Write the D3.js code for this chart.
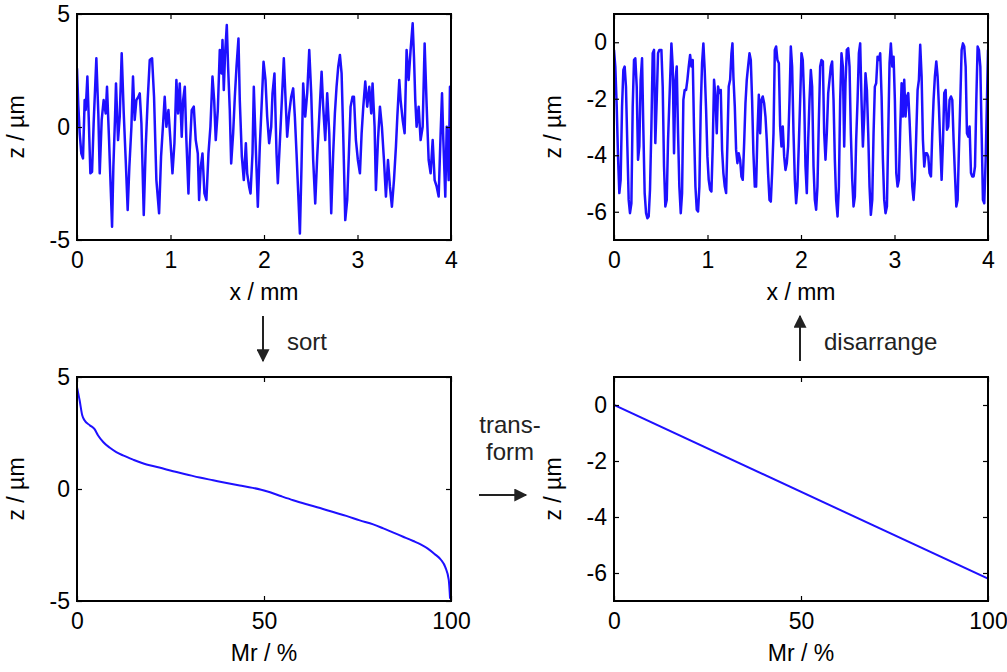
<!DOCTYPE html>
<html>
<head>
<meta charset="utf-8">
<script src="https://cdn.jsdelivr.net/npm/d3@7"></script>
<style>
  body { margin: 0; background: #fff; }
  svg { display: block; }
  text { font-family: "Liberation Sans", Arial, Helvetica, sans-serif; }
</style>
</head>
<body>
<svg id="fig" width="1007" height="672"></svg>
<script>
// Measured roughness profile (x in mm, z in µm)
const roughX = [0.000,0.014,0.029,0.046,0.064,0.082,0.093,0.111,0.125,0.143,0.161,0.178,0.207,0.228,0.243,0.264,0.285,0.307,0.321,0.343,
  0.360,0.375,0.389,0.407,0.417,0.439,0.457,0.478,0.500,0.521,0.542,0.560,0.582,0.599,0.617,0.635,0.657,0.671,0.689,0.714,
  0.735,0.756,0.778,0.803,0.824,0.849,0.878,0.899,0.921,0.938,0.956,0.978,0.999,1.021,1.042,1.063,1.081,1.099,1.120,1.135,
  1.153,1.170,1.192,1.206,1.227,1.249,1.270,1.292,1.306,1.324,1.342,1.363,1.384,1.406,1.427,1.449,1.467,1.484,1.506,1.527,
  1.545,1.556,1.570,1.584,1.602,1.616,1.634,1.649,1.670,1.688,1.706,1.727,1.741,1.763,1.784,1.806,1.820,1.841,1.856,1.877,
  1.891,1.913,1.934,1.955,1.977,1.995,2.016,2.034,2.055,2.077,2.091,2.112,2.134,2.148,2.169,2.191,2.212,2.234,2.248,2.269,
  2.291,2.312,2.330,2.348,2.369,2.384,2.401,2.419,2.441,2.462,2.484,2.505,2.526,2.548,2.569,2.591,2.616,2.633,2.655,2.676,
  2.698,2.719,2.740,2.758,2.776,2.794,2.812,2.830,2.847,2.869,2.890,2.908,2.926,2.947,2.962,2.983,3.004,3.026,3.044,3.062,
  3.083,3.104,3.126,3.147,3.161,3.183,3.197,3.219,3.240,3.261,3.283,3.304,3.326,3.347,3.368,3.390,3.411,3.426,3.447,3.461,
  3.483,3.504,3.525,3.547,3.568,3.590,3.604,3.618,3.632,3.654,3.675,3.697,3.718,3.740,3.761,3.782,3.804,3.825,3.847,3.868,
  3.889,3.904,3.918,3.939,3.954,3.975,3.989,4.000];
const roughZ = [2.60,0.97,-0.28,-1.17,-1.39,1.19,0.75,2.23,0.46,-2.05,-1.98,0.16,3.04,0.60,-2.05,0.31,1.19,0.60,1.78,-0.58,
  -2.64,-4.41,-1.76,0.46,1.93,-0.58,0.46,3.26,0.60,-1.46,-3.67,-1.76,0.01,2.23,0.31,1.19,1.34,1.49,0.16,-3.89,
  -0.87,1.19,2.96,3.04,1.34,-2.35,-3.82,-1.31,0.16,1.34,0.01,0.75,-0.58,-2.05,-0.72,2.08,0.60,1.93,-0.43,1.19,
  1.78,-0.58,-2.94,-1.02,0.75,0.90,-0.58,-1.17,-3.23,-1.76,-1.17,-2.94,-3.23,-1.17,0.01,2.23,1.19,-0.58,0.75,3.41,
  2.37,3.85,1.64,3.26,4.51,2.67,0.75,-1.61,-0.28,1.34,2.67,3.92,1.19,-1.31,-2.35,-0.72,-2.05,-2.64,-2.94,-1.17,
  1.78,-1.02,-3.53,-0.87,1.19,2.89,2.08,0.46,-0.72,0.01,1.49,2.37,-1.17,-2.49,-0.72,1.19,3.04,0.90,-0.43,0.60,
  1.34,1.71,0.46,-1.17,-3.23,-4.71,-1.76,1.93,0.46,1.49,3.41,1.49,-1.46,-3.38,-1.31,0.46,2.45,0.90,-0.58,1.49,
  -0.28,-3.82,-1.17,0.60,1.78,2.67,3.19,2.37,-0.28,-4.12,-3.23,-1.17,0.90,1.34,1.34,-0.58,-1.46,-2.05,-0.28,0.90,
  2.01,0.90,1.78,0.60,1.93,0.01,-2.79,-0.58,0.90,0.01,-1.46,-3.08,-1.46,-2.64,-3.53,-2.35,-0.87,0.46,2.08,1.19,
  0.31,-0.28,3.41,2.08,3.41,4.59,3.11,1.19,0.01,0.90,-0.58,0.01,3.70,0.90,-1.46,-2.05,-0.58,-2.35,-2.64,-3.08,
  -0.28,1.49,-0.58,-3.08,0.01,-2.35,1.78,0.90];

// Rearranged plateau profile (x in mm, z in µm)
const plateauX = [0.000,0.014,0.029,0.043,0.057,0.071,0.086,0.100,0.114,0.128,0.143,0.157,0.171,0.186,0.200,0.214,0.228,0.243,0.257,0.271,
  0.285,0.300,0.314,0.328,0.343,0.357,0.371,0.385,0.400,0.414,0.428,0.442,0.457,0.471,0.485,0.507,0.521,0.535,0.549,0.564,
  0.578,0.599,0.614,0.628,0.642,0.657,0.671,0.685,0.699,0.714,0.728,0.742,0.756,0.771,0.785,0.799,0.814,0.828,0.842,0.856,
  0.871,0.885,0.899,0.913,0.928,0.942,0.956,0.970,0.985,0.999,1.013,1.028,1.042,1.056,1.070,1.085,1.099,1.113,1.127,1.142,
  1.156,1.170,1.185,1.199,1.213,1.227,1.242,1.256,1.267,1.277,1.292,1.306,1.320,1.334,1.349,1.363,1.377,1.392,1.406,1.420,
  1.434,1.449,1.463,1.477,1.491,1.506,1.520,1.534,1.549,1.563,1.577,1.591,1.606,1.620,1.634,1.648,1.663,1.677,1.691,1.706,
  1.720,1.734,1.748,1.763,1.777,1.791,1.805,1.820,1.834,1.848,1.862,1.877,1.891,1.905,1.920,1.934,1.948,1.962,1.977,1.991,
  2.005,2.019,2.034,2.048,2.062,2.077,2.091,2.105,2.119,2.134,2.148,2.162,2.176,2.191,2.205,2.219,2.234,2.248,2.262,2.276,
  2.291,2.305,2.319,2.333,2.348,2.362,2.376,2.391,2.405,2.419,2.433,2.448,2.462,2.476,2.490,2.505,2.519,2.533,2.548,2.562,
  2.576,2.590,2.605,2.619,2.633,2.647,2.662,2.676,2.690,2.705,2.719,2.733,2.747,2.762,2.776,2.790,2.804,2.819,2.833,2.847,
  2.862,2.876,2.890,2.904,2.919,2.933,2.947,2.961,2.976,2.990,3.004,3.019,3.033,3.047,3.061,3.076,3.090,3.104,3.118,3.133,
  3.147,3.161,3.176,3.190,3.204,3.218,3.233,3.247,3.261,3.275,3.290,3.304,3.318,3.333,3.347,3.361,3.375,3.390,3.404,3.418,
  3.432,3.447,3.461,3.475,3.489,3.504,3.518,3.532,3.547,3.561,3.575,3.589,3.604,3.618,3.632,3.646,3.661,3.675,3.689,3.704,
  3.718,3.732,3.746,3.761,3.775,3.789,3.803,3.818,3.832,3.846,3.861,3.875,3.889,3.903,3.918,3.932,3.946,3.960,3.975,3.989,
  4.000];
const plateauZ = [-0.27,-0.86,-2.28,-4.04,-5.34,-4.87,-2.28,-0.98,-0.86,-1.57,-3.69,-5.58,-6.05,-5.70,-2.28,-0.63,-0.57,-1.57,-4.16,-3.69,
  -1.33,-0.57,-3.10,-5.34,-6.05,-6.23,-6.17,-5.22,-2.98,-0.39,-0.27,-3.57,-2.04,-0.39,-0.27,-0.27,-1.57,-4.40,-5.81,-5.58,
  -3.46,-1.45,-0.04,-0.86,-3.93,-1.33,-0.86,-3.22,-5.11,-6.05,-5.34,-2.04,-1.69,-1.69,-1.33,-0.86,-0.45,-0.86,-0.63,-3.10,
  -5.11,-5.93,-5.99,-5.11,-2.28,-0.74,-0.04,-0.98,-2.39,-4.04,-4.87,-5.22,-5.28,-3.69,-1.33,-1.92,-3.22,-1.57,-1.80,-1.69,
  -3.81,-4.63,-5.11,-5.34,-3.57,-1.57,-1.33,-0.39,-0.04,-1.21,-2.28,-3.81,-4.28,-3.93,-4.16,-4.75,-4.87,-3.57,-2.16,-1.33,
  -0.86,-0.39,-0.63,-2.04,-3.93,-5.11,-5.11,-3.22,-1.86,-3.22,-2.04,-1.92,-2.16,-2.63,-3.46,-4.63,-5.58,-5.64,-4.63,-3.22,
  -0.27,-0.15,-0.63,-0.74,-2.98,-3.69,-2.98,-4.04,-4.52,-4.28,-3.69,-2.04,-0.15,-0.86,-3.22,-4.87,-5.70,-5.11,-3.57,-2.04,
  -0.39,-0.63,-2.04,-4.40,-5.34,-3.46,-2.04,-0.98,-1.57,-4.40,-5.58,-5.93,-5.11,-2.75,-0.86,-0.63,-0.68,-3.22,-4.16,-3.22,
  -1.80,-1.33,-0.86,-0.68,-2.04,-4.16,-5.58,-6.17,-5.11,-2.04,-0.39,-0.86,-3.69,-1.45,-0.27,-0.21,-0.86,-3.22,-4.87,-5.81,
  -5.46,-3.46,-2.04,-0.39,-0.04,-2.04,-3.69,-2.63,-1.10,-1.69,-3.22,-5.11,-6.11,-5.58,-3.22,-1.57,-1.45,-0.51,-0.63,-0.39,
  -1.92,-4.16,-5.58,-6.05,-5.81,-3.22,-0.74,-0.04,-0.86,-0.51,-2.04,-4.63,-5.11,-4.87,-3.10,-1.45,-2.63,-1.33,-2.63,-1.92,
  -1.80,-2.75,-3.93,-5.11,-5.58,-4.87,-3.22,-1.69,-1.33,-0.09,-1.21,-3.46,-4.40,-3.93,-3.93,-4.04,-4.63,-4.75,-3.22,-2.04,
  -1.21,-0.68,-1.21,-2.28,-3.57,-4.87,-3.57,-1.80,-1.69,-3.10,-2.98,-2.04,-1.92,-2.04,-3.46,-4.63,-5.81,-5.58,-3.81,-2.04,
  -0.27,-0.04,-0.15,-0.86,-3.22,-3.34,-2.98,-4.63,-4.75,-4.75,-4.40,-2.04,-0.15,-0.27,-0.86,-3.22,-5.58,-5.70,-4.16,-2.04,
  -0.27];

// Material ratio (Abbott-Firestone) curve of the measured profile
const abbottMr = [0,0.7,1.4,2.0,3.4,4.7,5.6,7.0,8.7,10.5,12.3,15,18.6,22,25.7,29.3,32.8,36.4,40,43.5,
  47,50.7,54.2,57.8,61.4,65,68.5,72,75.6,79.2,81.9,84.6,87.2,89.9,92.0,93.8,95.6,97.3,98.5,99.4,99.75];
const abbottZ = [4.55,3.96,3.29,3.07,2.85,2.67,2.40,2.10,1.85,1.65,1.50,1.31,1.09,0.96,0.79,0.65,0.51,0.39,0.27,0.16,
  0.05,-0.10,-0.30,-0.50,-0.68,-0.85,-1.03,-1.20,-1.40,-1.58,-1.76,-1.95,-2.13,-2.32,-2.48,-2.66,-2.90,-3.16,-3.50,-4.06,-4.90];

// Target material ratio curve (linear)
const targetMr = [0, 100];
const targetZ = [0, -6.2];

// Tick values
const xTicksMm = [0, 1, 2, 3, 4];
const xTicksMr = [0, 50, 100];
const zTicksRough = [-5, 0, 5];
const zTicksPlateau = [0, -2, -4, -6];

const LINE = "#1e10ff";
const INK = "#222";
const FONT = "23px";

const svg = d3.select("#fig");
svg.append("rect").attr("width", 1007).attr("height", 672).attr("fill", "#fff");

const panels = [
  { left: 77,  right: 451, top: 14,  bottom: 240, xd: [0, 4],   yd: [-5, 5], xt: xTicksMm, yt: zTicksRough,   xl: "x / mm", xs: roughX,   zs: roughZ,   lw: 2.5, curve: d3.curveLinear },
  { left: 614, right: 988, top: 14,  bottom: 240, xd: [0, 4],   yd: [-7, 1], xt: xTicksMm, yt: zTicksPlateau, xl: "x / mm", xs: plateauX, zs: plateauZ, lw: 2.5, curve: d3.curveLinear },
  { left: 77,  right: 451, top: 377, bottom: 601, xd: [0, 100], yd: [-5, 5], xt: xTicksMr, yt: zTicksRough,   xl: "Mr / %", xs: abbottMr, zs: abbottZ,  lw: 2,   curve: d3.curveMonotoneX },
  { left: 614, right: 988, top: 377, bottom: 601, xd: [0, 100], yd: [-7, 1], xt: xTicksMr, yt: zTicksPlateau, xl: "Mr / %", xs: targetMr, zs: targetZ,  lw: 2,   curve: d3.curveLinear }
];

panels.forEach((p, i) => {
  const w = p.right - p.left, h = p.bottom - p.top;
  const x = d3.scaleLinear().domain(p.xd).range([0, w]);
  const y = d3.scaleLinear().domain(p.yd).range([h, 0]);
  const g = svg.append("g").attr("transform", `translate(${p.left},${p.top})`);

  g.append("clipPath").attr("id", "clip" + i)
    .append("rect").attr("width", w).attr("height", h);

  const pts = p.xs.map((v, k) => [v, p.zs[k]]);
  g.append("path")
    .datum(pts)
    .attr("clip-path", `url(#clip${i})`)
    .attr("fill", "none")
    .attr("stroke", LINE)
    .attr("stroke-width", p.lw)
    .attr("stroke-linejoin", "round")
    .attr("d", d3.line().curve(p.curve).x(d => x(d[0])).y(d => y(d[1])));

  const styleAxis = (sel, labels) => {
    sel.select(".domain").remove();
    sel.selectAll(".tick line").attr("stroke", "#000").attr("stroke-width", 1.2);
    sel.selectAll(".tick text").attr("fill", "#000").style("font-size", FONT)
      .style("font-family", '"Liberation Sans", Arial, Helvetica, sans-serif');
    if (!labels) sel.selectAll(".tick text").remove();
  };

  g.append("g").attr("transform", `translate(0,${h})`)
    .call(d3.axisBottom(x).tickValues(p.xt).tickFormat(d3.format("d")).tickSizeInner(-5).tickSizeOuter(0).tickPadding(12))
    .call(s => styleAxis(s, true));
  g.append("g")
    .call(d3.axisTop(x).tickValues(p.xt).tickSizeInner(-5).tickSizeOuter(0))
    .call(s => styleAxis(s, false));
  g.append("g")
    .call(d3.axisLeft(y).tickValues(p.yt).tickFormat(d => String(d)).tickSizeInner(-5).tickSizeOuter(0).tickPadding(7))
    .call(s => styleAxis(s, true));
  g.append("g").attr("transform", `translate(${w},0)`)
    .call(d3.axisRight(y).tickValues(p.yt).tickSizeInner(-5).tickSizeOuter(0))
    .call(s => styleAxis(s, false));

  g.append("rect").attr("width", w).attr("height", h)
    .attr("fill", "none").attr("stroke", "#000").attr("stroke-width", 2);

  g.append("text").attr("x", w / 2).attr("y", h + 60)
    .attr("text-anchor", "middle").style("font-size", FONT).text(p.xl);
  g.append("text")
    .attr("transform", `translate(-53,${h / 2}) rotate(-90)`)
    .attr("text-anchor", "middle").style("font-size", FONT).text("z / µm");
});

// Process arrows between the panels
svg.append("defs").append("marker")
  .attr("id", "head").attr("viewBox", "0 0 10 10").attr("refX", 9).attr("refY", 5)
  .attr("markerWidth", 15).attr("markerHeight", 13).attr("markerUnits", "userSpaceOnUse")
  .attr("orient", "auto")
  .append("path").attr("d", "M0,0 L10,5 L0,10 Z").attr("fill", INK);

const arrow = (x1, y1, x2, y2) => svg.append("line")
  .attr("x1", x1).attr("y1", y1).attr("x2", x2).attr("y2", y2)
  .attr("stroke", INK).attr("stroke-width", 2).attr("marker-end", "url(#head)");

arrow(263, 316, 263, 361);
arrow(800, 361, 800, 316);
arrow(479, 495, 526, 495);

const note = (tx, ty, s, anchor) => svg.append("text")
  .attr("x", tx).attr("y", ty).attr("text-anchor", anchor || "start")
  .attr("fill", INK).style("font-size", "24px").text(s);

note(287, 350, "sort");
note(824, 350, "disarrange");
note(510, 433, "trans-", "middle");
note(510, 460, "form", "middle");
</script>
</body>
</html>
